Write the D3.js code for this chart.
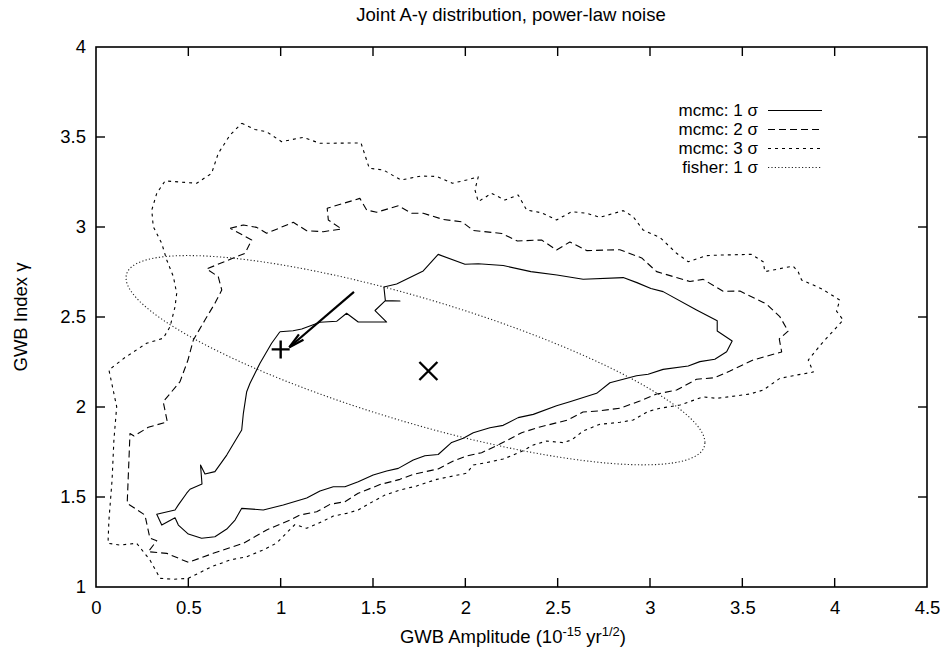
<!DOCTYPE html>
<html><head><meta charset="utf-8">
<script src="https://cdn.jsdelivr.net/npm/d3@7"></script>
<style>
html,body{margin:0;padding:0;background:#fff;}
svg text{font-family:"Liberation Sans",Arial,Helvetica,sans-serif;fill:#000;}
</style></head>
<body><svg id="chart" width="944" height="651"></svg>
<script>
// ---------------- data ----------------
const title = "Joint A-\u03b3 distribution, power-law noise";
const xTickValues = [0, 0.5, 1, 1.5, 2, 2.5, 3, 3.5, 4, 4.5];
const xTickLabels = ["0", "0.5", "1", "1.5", "2", "2.5", "3", "3.5", "4", "4.5"];
const yTickValues = [1, 1.5, 2, 2.5, 3, 3.5, 4];
const yTickLabels = ["1", "1.5", "2", "2.5", "3", "3.5", "4"];
const legendLabels = ["mcmc: 1 \u03c3", "mcmc: 2 \u03c3", "mcmc: 3 \u03c3", "fisher: 1 \u03c3"];

// contour: [amplitude, gamma]
const mcmc1sigma = [
[0.996,2.418],[1.067,2.424],[1.114,2.433],[1.213,2.471],[1.303,2.476],[1.357,2.521],[1.420,2.472],[1.574,2.472],
[1.511,2.536],[1.567,2.591],[1.646,2.589],[1.567,2.591],[1.559,2.667],[1.628,2.683],[1.772,2.756],[1.853,2.848],
[1.998,2.793],[2.070,2.796],[2.205,2.786],[2.355,2.752],[2.496,2.733],[2.638,2.710],[2.855,2.719],[2.929,2.691],
[3.005,2.658],[3.071,2.641],[3.252,2.539],[3.364,2.479],[3.364,2.422],[3.445,2.367],[3.415,2.307],[3.351,2.265],
[3.270,2.252],[3.207,2.228],[3.071,2.209],[2.990,2.182],[2.927,2.174],[2.855,2.154],[2.783,2.135],[2.711,2.076],
[2.566,2.029],[2.494,2.007],[2.368,1.959],[2.286,1.941],[2.205,1.898],[2.133,1.885],[2.043,1.857],[1.989,1.826],
[1.926,1.803],[1.853,1.736],[1.781,1.729],[1.718,1.706],[1.637,1.659],[1.574,1.644],[1.501,1.622],[1.420,1.585],
[1.348,1.557],[1.285,1.557],[1.213,1.533],[1.141,1.494],[1.014,1.456],[0.906,1.428],[0.789,1.437],[0.753,1.372],
[0.708,1.322],[0.644,1.279],[0.572,1.271],[0.500,1.294],[0.446,1.344],[0.428,1.385],[0.356,1.344],[0.329,1.404],
[0.428,1.428],[0.446,1.456],[0.491,1.521],[0.509,1.543],[0.574,1.572],[0.566,1.678],[0.590,1.628],[0.644,1.641],
[0.708,1.733],[0.789,1.872],[0.798,1.965],[0.816,2.085],[0.834,2.132],[0.888,2.243],[0.951,2.354],[0.996,2.418]
];
const mcmc2sigma = [
[0.726,2.993],[0.798,3.011],[0.870,2.998],[0.924,2.965],[1.068,3.026],[1.141,2.979],[1.231,2.974],[1.330,2.989],
[1.258,3.039],[1.252,3.104],[1.429,3.159],[1.466,3.094],[1.520,3.082],[1.637,3.118],[1.709,3.076],[1.772,3.076],
[1.880,3.042],[1.982,3.029],[2.043,2.981],[2.198,2.964],[2.282,2.922],[2.413,2.928],[2.494,2.872],[2.566,2.917],
[2.657,2.869],[2.837,2.874],[2.955,2.828],[3.036,2.752],[3.216,2.697],[3.288,2.709],[3.396,2.643],[3.487,2.644],
[3.631,2.572],[3.703,2.502],[3.748,2.422],[3.700,2.378],[3.713,2.306],[3.559,2.261],[3.433,2.200],[3.351,2.163],
[3.252,2.154],[3.144,2.094],[3.036,2.072],[2.945,2.033],[2.837,1.993],[2.729,1.979],[2.637,1.972],[2.556,1.928],
[2.404,1.889],[2.305,1.857],[2.187,1.794],[2.088,1.746],[2.007,1.728],[1.935,1.700],[1.853,1.656],[1.718,1.626],
[1.646,1.598],[1.538,1.569],[1.420,1.521],[1.348,1.474],[1.267,1.459],[1.195,1.418],[1.104,1.400],[1.050,1.372],
[0.924,1.317],[0.798,1.243],[0.635,1.187],[0.500,1.137],[0.383,1.187],[0.283,1.196],[0.329,1.257],[0.292,1.271],
[0.265,1.400],[0.169,1.465],[0.184,1.853],[0.206,1.839],[0.283,1.887],[0.386,1.918],[0.364,2.029],[0.455,2.141],
[0.498,2.261],[0.527,2.372],[0.590,2.483],[0.644,2.576],[0.681,2.650],[0.662,2.724],[0.599,2.767],[0.807,2.854],
[0.843,2.928],[0.726,2.993]
];
const mcmc3sigma = [
[0.789,3.576],[0.861,3.542],[0.924,3.529],[1.005,3.474],[1.122,3.498],[1.213,3.465],[1.435,3.467],[1.480,3.326],
[1.556,3.317],[1.651,3.261],[1.760,3.283],[1.846,3.281],[1.930,3.243],[2.007,3.261],[2.070,3.279],[2.052,3.206],
[2.070,3.141],[2.142,3.187],[2.214,3.150],[2.286,3.178],[2.332,3.094],[2.413,3.079],[2.494,3.039],[2.576,3.085],
[2.657,3.076],[2.729,3.054],[2.855,3.091],[2.909,3.057],[2.963,2.983],[3.054,2.942],[3.144,2.854],[3.207,2.807],
[3.306,2.841],[3.378,2.844],[3.549,2.848],[3.613,2.807],[3.622,2.752],[3.775,2.783],[3.802,2.752],[3.821,2.706],
[3.931,2.656],[4.028,2.594],[4.010,2.533],[4.046,2.483],[3.931,2.354],[3.857,2.261],[3.884,2.194],[3.775,2.174],
[3.703,2.159],[3.613,2.094],[3.541,2.072],[3.361,2.048],[3.288,2.056],[3.162,2.011],[3.054,1.993],[2.989,1.975],
[2.909,1.928],[2.837,1.915],[2.729,1.904],[2.638,1.867],[2.576,1.817],[2.530,1.802],[2.440,1.811],[2.368,1.789],
[2.313,1.757],[2.259,1.733],[2.205,1.711],[2.115,1.691],[2.043,1.678],[2.007,1.632],[1.935,1.617],[1.845,1.598],
[1.736,1.561],[1.646,1.539],[1.565,1.511],[1.483,1.465],[1.420,1.428],[1.357,1.409],[1.285,1.394],[1.204,1.354],
[1.141,1.326],[1.077,1.347],[0.978,1.244],[0.906,1.206],[0.816,1.168],[0.726,1.150],[0.626,1.113],[0.500,1.048],
[0.419,1.043],[0.347,1.048],[0.292,1.150],[0.220,1.243],[0.130,1.233],[0.065,1.243],[0.070,1.372],[0.087,1.594],
[0.097,1.817],[0.112,2.002],[0.070,2.206],[0.157,2.275],[0.274,2.354],[0.364,2.382],[0.401,2.446],[0.428,2.557],
[0.437,2.632],[0.419,2.724],[0.383,2.817],[0.356,2.909],[0.310,3.002],[0.302,3.094],[0.329,3.187],[0.374,3.256],
[0.545,3.243],[0.626,3.298],[0.662,3.409],[0.726,3.511],[0.789,3.576]
];
// Fisher 1-sigma ellipse: centre and covariance (amplitude, gamma)
const fisherCenter = [1.73, 2.26];
const fisherCov = [[2.457, -0.717], [-0.717, 0.338]];
// markers
const plusMarker = [1.0, 2.32];
const crossMarker = [1.8, 2.2];
const arrowFrom = [1.397, 2.64];
const arrowTo = [1.047, 2.332];

// ---------------- drawing ----------------
const svg = d3.select("#chart");
const FS = 18.5;
const LFS = 17;
const x = d3.scaleLinear().domain([0, 4.5]).range([96, 927]);
const y = d3.scaleLinear().domain([1, 4]).range([587, 47]);

// title
svg.append("text").attr("x", 511).attr("y", 21).attr("text-anchor", "middle")
  .style("font-size", FS + "px").text(title);

// axes with inward ticks (gnuplot style, mirrored)
const tickLen = 9;
const axB = d3.axisBottom(x).tickValues(xTickValues).tickSize(0).tickFormat((d, i) => xTickLabels[i]).tickPadding(14);
const axL = d3.axisLeft(y).tickValues(yTickValues).tickSize(0).tickFormat((d, i) => yTickLabels[i]).tickPadding(10);
const gB = svg.append("g").attr("transform", "translate(0,587)").call(axB);
const gL = svg.append("g").attr("transform", "translate(96,0)").call(axL);
[gB, gL].forEach(g => { g.select(".domain").remove(); g.selectAll("text").style("font-size", FS + "px").attr("fill", "#000"); });
gB.selectAll("text").attr("dy", "0.71em");

const tickG = svg.append("g").attr("stroke", "#000").attr("stroke-width", 1.4);
xTickValues.forEach(v => {
  if (v === 0 || v === 4.5) return;
  tickG.append("line").attr("x1", x(v)).attr("x2", x(v)).attr("y1", 587).attr("y2", 587 - tickLen);
  tickG.append("line").attr("x1", x(v)).attr("x2", x(v)).attr("y1", 47).attr("y2", 47 + tickLen);
});
yTickValues.forEach(v => {
  if (v === 1 || v === 4) return;
  tickG.append("line").attr("x1", 96).attr("x2", 96 + tickLen).attr("y1", y(v)).attr("y2", y(v));
  tickG.append("line").attr("x1", 927).attr("x2", 927 - tickLen).attr("y1", y(v)).attr("y2", y(v));
});
svg.append("rect").attr("x", 96).attr("y", 47).attr("width", 831).attr("height", 540)
  .attr("fill", "none").attr("stroke", "#000").attr("stroke-width", 1.6);

// axis titles
const xl = svg.append("text").attr("x", 513).attr("y", 643).attr("text-anchor", "middle").style("font-size", FS + "px");
xl.append("tspan").text("GWB Amplitude (10");
xl.append("tspan").attr("dy", -7).style("font-size", "13px").text("-15");
xl.append("tspan").attr("dy", 7).text(" yr");
xl.append("tspan").attr("dy", -7).style("font-size", "13px").text("1/2");
xl.append("tspan").attr("dy", 7).text(")");
svg.append("text").attr("transform", "translate(27,317) rotate(-90)").attr("text-anchor", "middle")
  .style("font-size", FS + "px").text("GWB Index \u03b3");

// contours
const line = d3.line().x(d => x(d[0])).y(d => y(d[1]));
const styles = [
  {data: mcmc1sigma, dash: null},
  {data: mcmc2sigma, dash: "7,4"},
  {data: mcmc3sigma, dash: "3,4"}
];
const plotG = svg.append("g");
styles.forEach(s => {
  plotG.append("path").attr("d", line(s.data)).attr("fill", "none").attr("stroke", "#000")
    .attr("stroke-width", 1.1).attr("stroke-linejoin", "round").attr("stroke-dasharray", s.dash);
});

// fisher ellipse from covariance
const l11 = Math.sqrt(fisherCov[0][0]);
const l21 = fisherCov[1][0] / l11;
const l22 = Math.sqrt(fisherCov[1][1] - l21 * l21);
const ell = d3.range(0, 361, 2).map(deg => {
  const t = deg * Math.PI / 180;
  return [fisherCenter[0] + l11 * Math.cos(t), fisherCenter[1] + l21 * Math.cos(t) + l22 * Math.sin(t)];
});
plotG.append("path").attr("d", line(ell)).attr("fill", "none").attr("stroke", "#222")
  .attr("stroke-width", 1.1).attr("stroke-dasharray", "1.2,2.2");

// markers
const px = x(plusMarker[0]), py = y(plusMarker[1]);
plotG.append("path").attr("d", `M${px - 9},${py}H${px + 9}M${px},${py - 9}V${py + 9}`)
  .attr("stroke", "#000").attr("stroke-width", 2.4);
const cx = x(crossMarker[0]), cy = y(crossMarker[1]);
plotG.append("path").attr("d", `M${cx - 9},${cy - 9}L${cx + 9},${cy + 9}M${cx - 9},${cy + 9}L${cx + 9},${cy - 9}`)
  .attr("stroke", "#000").attr("stroke-width", 2.4);

// arrow
const ax0 = x(arrowFrom[0]), ay0 = y(arrowFrom[1]), ax1 = x(arrowTo[0]), ay1 = y(arrowTo[1]);
const ang = Math.atan2(ay1 - ay0, ax1 - ax0);
const hl = 16, ha = 0.22;
plotG.append("path").attr("d", `M${ax0},${ay0}L${ax1},${ay1}`).attr("stroke", "#000").attr("stroke-width", 2.2);
plotG.append("path").attr("d",
  `M${ax1 - hl * Math.cos(ang - ha)},${ay1 - hl * Math.sin(ang - ha)}L${ax1},${ay1}L${ax1 - hl * Math.cos(ang + ha)},${ay1 - hl * Math.sin(ang + ha)}`)
  .attr("fill", "none").attr("stroke", "#000").attr("stroke-width", 2.2).attr("stroke-linejoin", "miter");

// legend
const legRows = [110.5, 129.5, 148.5, 167.5];
const legDash = [null, "7,4", "3,4", "1.2,2.2"];
const legG = svg.append("g");
legendLabels.forEach((lab, i) => {
  legG.append("text").attr("x", 758).attr("y", legRows[i]).attr("dy", "0.35em").attr("text-anchor", "end")
    .style("font-size", LFS + "px").text(lab);
  legG.append("line").attr("x1", 768).attr("x2", 822).attr("y1", legRows[i]).attr("y2", legRows[i])
    .attr("stroke", i === 3 ? "#222" : "#000").attr("stroke-width", 1.1).attr("stroke-dasharray", legDash[i]);
});
</script></body></html>
